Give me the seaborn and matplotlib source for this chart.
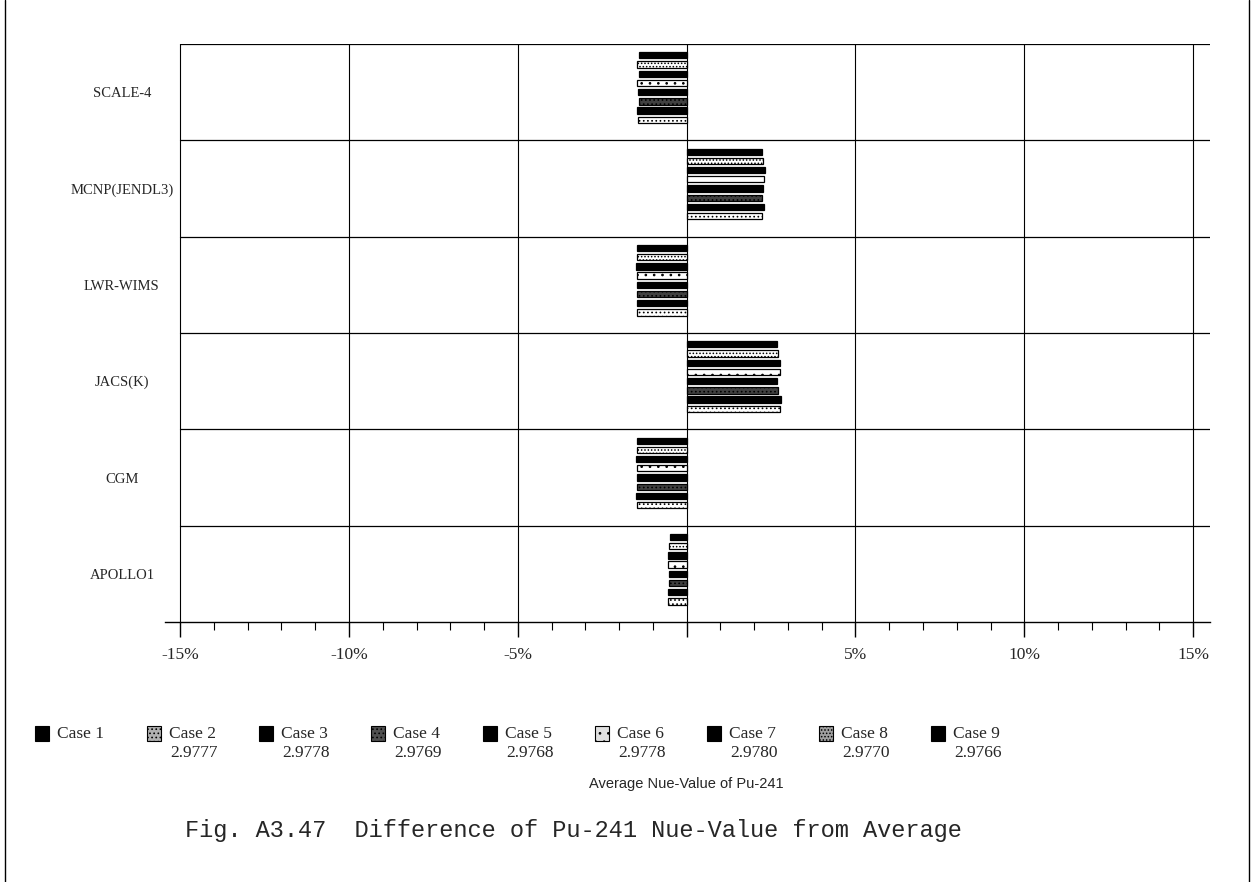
import numpy as np
import pandas as pd
import matplotlib
matplotlib.use("Agg")
import matplotlib.pyplot as plt
import seaborn as sns
from matplotlib.patches import Rectangle
from matplotlib.lines import Line2D
from matplotlib.ticker import MultipleLocator, FixedLocator

# ---------------- data ----------------
codes = ["SCALE-4", "MCNP(JENDL3)", "LWR-WIMS", "JACS(K)", "CGM", "APOLLO1"]
cases = ["Case 1", "Case 2", "Case 3", "Case 4", "Case 5",
         "Case 6", "Case 7", "Case 8", "Case 9"]
case_avg = ["", "2.9777", "2.9778", "2.9769", "2.9768",
            "2.9778", "2.9780", "2.9770", "2.9766"]
nan = np.nan
# difference from average (%), cases 1..9 (case 1 has no bar)
scale4 = [nan, -1.44, -1.46, -1.41, -1.44, -1.46, -1.41, -1.46, -1.41]
mcnp = [nan, 2.24, 2.29, 2.24, 2.27, 2.29, 2.31, 2.27, 2.24]
lwr_wims = [nan, -1.48, -1.48, -1.46, -1.46, -1.48, -1.51, -1.48, -1.46]
jacs = [nan, 2.77, 2.79, 2.71, 2.69, 2.77, 2.77, 2.71, 2.67]
cgm = [nan, -1.46, -1.50, -1.46, -1.46, -1.46, -1.50, -1.46, -1.46]
apollo1 = [nan, -0.56, -0.56, -0.51, -0.51, -0.54, -0.54, -0.51, -0.49]
x_ticks = [-15, -10, -5, 0, 5, 10, 15]
x_ticklabels = ["-15%", "-10%", "-5%", "", "5%", "10%", "15%"]

rows = []
for code, vals in zip(codes, [scale4, mcnp, lwr_wims, jacs, cgm, apollo1]):
    for c, v in zip(cases, vals):
        rows.append({"code": code, "case": c, "diff": v})
df = pd.DataFrame(rows)

# ---------------- styles ----------------
face = {"Case 1": "black", "Case 2": "white", "Case 3": "black",
        "Case 4": "#404040", "Case 5": "black", "Case 6": "white",
        "Case 7": "black", "Case 8": "white", "Case 9": "black"}
hatch = {"Case 2": "....", "Case 4": "....", "Case 6": "..", "Case 8": "....."}
leg_face = {"Case 2": "#b0b0b0", "Case 4": "#505050", "Case 6": "#e0e0e0",
            "Case 8": "#a0a0a0"}

sns.set_theme(style="white")
plt.rcParams["hatch.linewidth"] = 0.7
serif = ["Liberation Serif", "DejaVu Serif"]

fig = plt.figure(figsize=(12.53, 8.82), dpi=100)
W, H = 1253, 882
ax = fig.add_axes([165 / W, 1 - 622 / H, (1210 - 165) / W, (622 - 44) / H])

hue_order = cases[::-1]  # case 9 on top, case 1 slot at the bottom
sns.barplot(data=df, y="code", x="diff", hue="case", order=codes,
            hue_order=hue_order, orient="h", dodge=True, width=0.86,
            gap=0.32, ax=ax, legend=False, errorbar=None,
            edgecolor="black", linewidth=0.9)

present = [c for c in hue_order if df.loc[df["case"] == c, "diff"].notna().any()]
levels = present if len(ax.containers) == len(present) else hue_order
for lab, cont in zip(levels, ax.containers):
    for p in cont.patches:
        p.set_facecolor(face.get(lab, "black"))
        p.set_edgecolor("black")
        if lab in hatch:
            p.set_hatch(hatch[lab])

ax.set_xlim(-15.45, 15.5)
ax.set_ylim(len(codes) - 0.5, -0.5)
for s in ["top", "right", "left"]:
    ax.spines[s].set_visible(False)
ax.spines["bottom"].set_color("black")
ax.spines["bottom"].set_linewidth(1.0)

# vertical grid lines at major ticks
for xv in x_ticks:
    ax.axvline(xv, color="black", lw=0.8, zorder=0.5)
# category separators
for yv in np.arange(-0.5, len(codes) - 0.5, 1.0):
    ax.axhline(yv, xmin=(-15 - (-15.45)) / 30.95, color="black", lw=0.9, zorder=0.5)

ax.xaxis.set_major_locator(FixedLocator(x_ticks))
ax.xaxis.set_minor_locator(MultipleLocator(1))
ax.set_xticklabels(x_ticklabels, fontfamily=serif, fontsize=12.5)
ax.tick_params(axis="x", which="major", direction="out", length=11, width=1,
               color="black", bottom=True, pad=7)
ax.tick_params(axis="x", which="minor", direction="out", length=6, width=0.8,
               color="black", bottom=True)
ax.tick_params(axis="y", left=False, pad=25)
ax.set_yticks(range(len(codes)))
ax.set_yticklabels(codes, fontfamily=serif, fontsize=10.5, ha="center")
ax.set_xlabel("")
ax.set_ylabel("")
ax.grid(False)

# ---------------- legend ----------------
for i, c in enumerate(cases):
    x0 = 35 + 112 * i
    y0 = 726
    fig.patches.append(Rectangle((x0 / W, 1 - (y0 + 15) / H), 14 / W, 15 / H,
                                 transform=fig.transFigure,
                                 facecolor=leg_face.get(c, "black"),
                                 edgecolor="black", lw=0.8,
                                 hatch=hatch.get(c, None)))
    fig.text((x0 + 22) / W, 1 - 734 / H, c, ha="left", va="center",
             fontfamily=serif, fontsize=12.5)
    if case_avg[i]:
        fig.text((x0 + 47) / W, 1 - 753 / H, case_avg[i], ha="center",
                 va="center", fontfamily=serif, fontsize=12.5)

fig.text(686 / W, 1 - 784 / H, "Average Nue-Value of Pu-241", ha="center",
         va="center", fontfamily="Liberation Sans", fontsize=10.5)
fig.text(185 / W, 1 - 831 / H,
         "Fig. A3.47  Difference of Pu-241 Nue-Value from Average",
         ha="left", va="center", fontfamily="Liberation Mono", fontsize=17)

# outer frame lines
fig.add_artist(Line2D([5 / W, 5 / W], [0, 1], color="black", lw=1,
                      transform=fig.transFigure))
fig.add_artist(Line2D([1249 / W, 1249 / W], [0, 1], color="black", lw=1,
                      transform=fig.transFigure))

fig.savefig("out.png", dpi=100)
